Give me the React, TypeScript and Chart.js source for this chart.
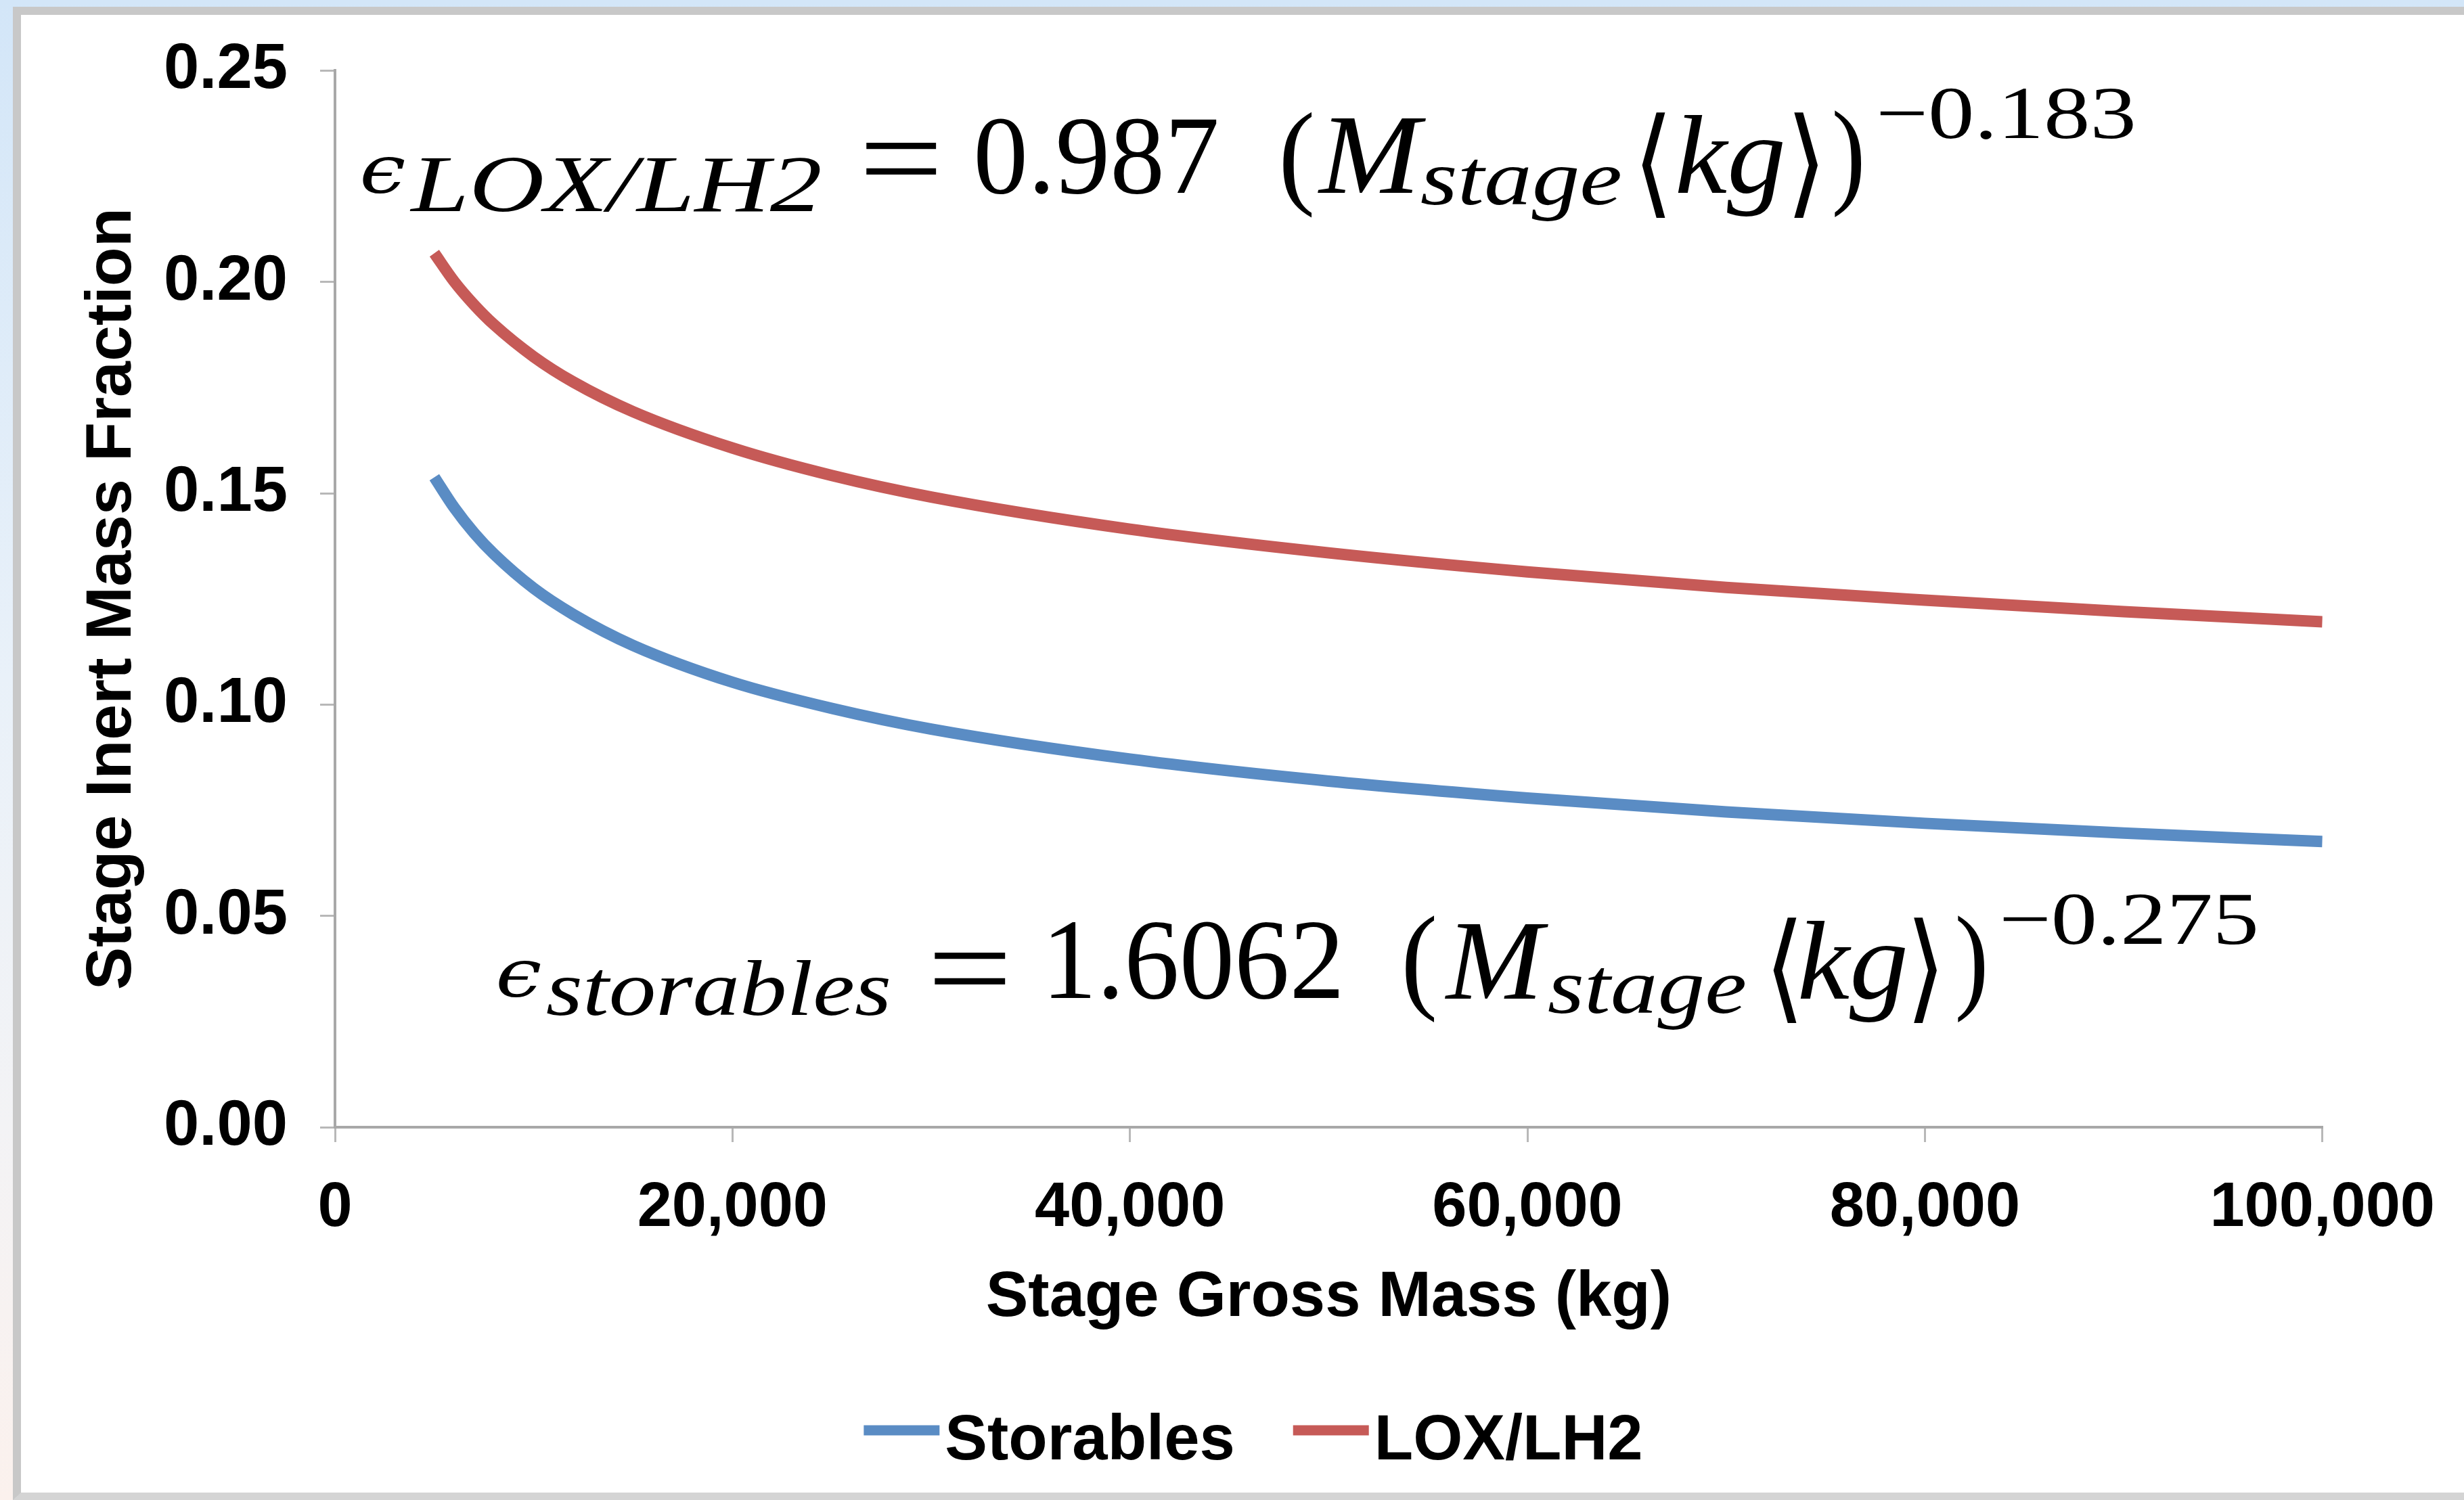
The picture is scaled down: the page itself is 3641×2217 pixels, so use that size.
import React, { useEffect, useRef } from 'react';
import { Chart, registerables } from 'chart.js';

Chart.register(...registerables);

// ---------- data ----------
const massKg = [5000, 6000, 7000, 8000, 10000, 12000, 15000, 20000, 25000, 30000, 40000, 50000, 60000, 70000, 80000, 90000, 100000];
const storablesFraction = [0.1538, 0.1466, 0.1406, 0.1356, 0.1275, 0.1213, 0.1140, 0.1053, 0.0991, 0.0942, 0.0871, 0.0819, 0.0779, 0.0746, 0.0719, 0.0696, 0.0676];
const loxLh2Fraction = [0.2068, 0.2001, 0.1946, 0.1899, 0.1823, 0.1763, 0.1693, 0.1607, 0.1542, 0.1491, 0.1415, 0.1359, 0.1314, 0.1277, 0.1247, 0.1220, 0.1196];
const seriesLabels = ['Storables', 'LOX/LH2'];
const xTickValues = [0, 20000, 40000, 60000, 80000, 100000];
const yTickValues = [0, 0.05, 0.1, 0.15, 0.2, 0.25];
const xAxisTitle = 'Stage Gross Mass (kg)';
const yAxisTitle = 'Stage Inert Mass Fraction';

// ---------- styles ----------
const W = 3641;
const H = 2217;
const BLUE = '#5a8cc4';
const RED = '#c65a57';
const SANS = "'Liberation Sans', Arial, Helvetica, sans-serif";
const SERIF = "'Liberation Serif', 'Times New Roman', serif";
const MATH = "'DejaVu Serif', 'Liberation Serif', serif";

type Piece = { t: string; f: string; x0: number; x1: number; y0?: number; y1?: number; base?: number };

const equationLox: Piece[] = [
  { t: '\u03F5', f: `italic 130px ${MATH}`, x0: 536, x1: 598, y0: 233, y1: 287 },
  { t: 'LOX/LH2', f: `italic 118px ${SERIF}`, x0: 605, x1: 1212, base: 312 },
  { t: '=', f: `160px ${SERIF}`, x0: 1279, x1: 1384, y0: 210, y1: 258 },
  { t: '0.987', f: `166px ${SERIF}`, x0: 1444, x1: 1798, y0: 175, y1: 287 },
  { t: '(', f: `166px ${SERIF}`, x0: 1896, x1: 1938, y0: 165, y1: 322 },
  { t: 'M', f: `italic 166px ${SERIF}`, x0: 1947, x1: 2107, y0: 175, y1: 285 },
  { t: 'stage', f: `italic 116px ${SERIF}`, x0: 2100, x1: 2394, base: 302 },
  { t: '\u27E8', f: `166px ${MATH}`, x0: 2426, x1: 2461, y0: 166, y1: 322 },
  { t: 'kg', f: `italic 166px ${SERIF}`, x0: 2479, x1: 2635, base: 285 },
  { t: '\u27E9', f: `166px ${MATH}`, x0: 2651, x1: 2686, y0: 166, y1: 322 },
  { t: ')', f: `166px ${SERIF}`, x0: 2711, x1: 2750, y0: 163, y1: 322 },
  { t: '\u22120.183', f: `110px ${SERIF}`, x0: 2778, x1: 3152, base: 204 },
];

const equationStorables: Piece[] = [
  { t: '\u03F5', f: `italic 130px ${MATH}`, x0: 737, x1: 799, y0: 1421, y1: 1475 },
  { t: 'storables', f: `italic 117px ${SERIF}`, x0: 808, x1: 1313, base: 1500 },
  { t: '=', f: `160px ${SERIF}`, x0: 1380, x1: 1486, y0: 1407, y1: 1455 },
  { t: '1.6062', f: `166px ${SERIF}`, x0: 1553, x1: 1978, y0: 1362, y1: 1477 },
  { t: '(', f: `166px ${SERIF}`, x0: 2077, x1: 2119, y0: 1353, y1: 1512 },
  { t: 'M', f: `italic 166px ${SERIF}`, x0: 2135, x1: 2288, y0: 1366, y1: 1476 },
  { t: 'stage', f: `italic 116px ${SERIF}`, x0: 2288, x1: 2578, base: 1497 },
  { t: '\u27E8', f: `166px ${MATH}`, x0: 2620, x1: 2655, y0: 1356, y1: 1512 },
  { t: 'kg', f: `italic 166px ${SERIF}`, x0: 2660, x1: 2816, base: 1476 },
  { t: '\u27E9', f: `166px ${MATH}`, x0: 2828, x1: 2862, y0: 1356, y1: 1512 },
  { t: ')', f: `166px ${SERIF}`, x0: 2893, x1: 2932, y0: 1353, y1: 1512 },
  { t: '\u22120.275', f: `110px ${SERIF}`, x0: 2960, x1: 3333, base: 1395 },
];

function drawPiece(ctx: CanvasRenderingContext2D, p: Piece) {
  ctx.save();
  ctx.font = p.f;
  ctx.fillStyle = '#000';
  ctx.textAlign = 'left';
  ctx.textBaseline = 'alphabetic';
  const m = ctx.measureText(p.t);
  const inkL = -m.actualBoundingBoxLeft;
  const inkR = m.actualBoundingBoxRight;
  const sx = (p.x1 - p.x0) / Math.max(1, inkR - inkL);
  if (p.base !== undefined) {
    ctx.translate(p.x0, p.base);
    ctx.scale(sx, 1);
    ctx.fillText(p.t, -inkL, 0);
  } else {
    const inkT = -m.actualBoundingBoxAscent;
    const inkB = m.actualBoundingBoxDescent;
    const sy = ((p.y1 as number) - (p.y0 as number)) / Math.max(1, inkB - inkT);
    ctx.translate(p.x0, p.y0 as number);
    ctx.scale(sx, sy);
    ctx.fillText(p.t, -inkL, -inkT);
  }
  ctx.restore();
}

const equationPlugin = {
  id: 'equations',
  afterDraw(chart: any) {
    const ctx = chart.ctx as CanvasRenderingContext2D;
    equationLox.forEach((p) => drawPiece(ctx, p));
    equationStorables.forEach((p) => drawPiece(ctx, p));
  },
};

const bottomLegendPlugin = {
  id: 'bottomLegend',
  afterDraw(chart: any) {
    const ctx = chart.ctx as CanvasRenderingContext2D;
    const centerX = 1852;
    const textY = 2131;
    const lineY = 2114;
    const segW = 112;
    const segGap = 8;
    const itemGap = 86;
    ctx.save();
    ctx.font = `bold 94px ${SANS}`;
    ctx.textBaseline = 'middle';
    ctx.textAlign = 'left';
    const items = chart.data.datasets.map((ds: any) => ({
      label: ds.label as string,
      color: ds.borderColor as string,
      w: ctx.measureText(ds.label).width,
    }));
    const total = items.reduce((s: number, it: any) => s + segW + segGap + it.w, 0) + itemGap * (items.length - 1);
    let x = centerX - total / 2;
    items.forEach((it: any) => {
      ctx.strokeStyle = it.color;
      ctx.lineWidth = 15;
      ctx.lineCap = 'butt';
      ctx.beginPath();
      ctx.moveTo(x, lineY);
      ctx.lineTo(x + segW, lineY);
      ctx.stroke();
      ctx.fillStyle = '#000';
      ctx.fillText(it.label, x + segW + segGap, textY);
      x += segW + segGap + it.w + itemGap;
    });
    ctx.restore();
  },
};

export default function App() {
  const canvasRef = useRef<HTMLCanvasElement | null>(null);

  useEffect(() => {
    const canvas = canvasRef.current;
    if (!canvas) return;
    const toPoints = (ys: number[]) => massKg.map((x, i) => ({ x, y: ys[i] }));
    const chart = new Chart(canvas, {
      type: 'line',
      data: {
        datasets: [
          {
            label: seriesLabels[0],
            data: toPoints(storablesFraction),
            borderColor: BLUE,
            backgroundColor: BLUE,
            borderWidth: 17,
            pointRadius: 0,
            cubicInterpolationMode: 'monotone',
            borderCapStyle: 'butt',
            fill: false,
          },
          {
            label: seriesLabels[1],
            data: toPoints(loxLh2Fraction),
            borderColor: RED,
            backgroundColor: RED,
            borderWidth: 17,
            pointRadius: 0,
            cubicInterpolationMode: 'monotone',
            borderCapStyle: 'butt',
            fill: false,
          },
        ],
      },
      options: {
        responsive: false,
        animation: false,
        devicePixelRatio: 1,
        layout: { padding: { left: 0, top: 101, right: W - 3437, bottom: 0 } },
        plugins: {
          legend: { display: false },
          tooltip: { enabled: false },
          title: { display: false },
        },
        scales: {
          x: {
            type: 'linear',
            min: 0,
            max: 100000,
            afterBuildTicks: (scale: any) => {
              scale.ticks = xTickValues.map((v) => ({ value: v }));
            },
            afterFit: (scale: any) => {
              scale.height = H - 1666;
            },
            ticks: {
              color: '#000',
              font: { family: SANS, size: 92, weight: 'bold' },
              padding: 43,
              maxRotation: 0,
              autoSkip: false,
              callback: (v: any) => Number(v).toLocaleString('en-US'),
            },
            grid: {
              drawOnChartArea: false,
              drawTicks: true,
              tickLength: 22,
              color: '#b8b8b8',
              lineWidth: 3,
            },
            border: { display: true, color: '#a8a8a8', width: 4 },
            title: {
              display: true,
              text: xAxisTitle,
              color: '#000',
              font: { family: SANS, size: 94, weight: 'bold' },
              padding: { top: 0, bottom: 242 },
            },
          },
          y: {
            type: 'linear',
            min: 0,
            max: 0.25,
            afterBuildTicks: (scale: any) => {
              scale.ticks = yTickValues.map((v) => ({ value: v }));
            },
            afterFit: (scale: any) => {
              scale.width = 495;
            },
            ticks: {
              color: '#000',
              font: { family: SANS, size: 94, weight: 'bold' },
              padding: 48,
              autoSkip: false,
              callback: (v: any) => Number(v).toFixed(2),
            },
            grid: {
              drawOnChartArea: false,
              drawTicks: true,
              tickLength: 22,
              color: '#b8b8b8',
              lineWidth: 3,
            },
            border: { display: true, color: '#a8a8a8', width: 4 },
            title: {
              display: true,
              text: yAxisTitle,
              color: '#000',
              font: { family: SANS, size: 95, weight: 'bold' },
              padding: { top: 110, bottom: 0 },
            },
          },
        },
      },
      plugins: [equationPlugin, bottomLegendPlugin],
    } as any);
    return () => chart.destroy();
  }, []);

  return (
    <div
      style={{
        position: 'fixed',
        left: 0,
        top: 0,
        width: W,
        height: H,
        overflow: 'hidden',
        background: 'linear-gradient(to bottom, #d3e6f8 0%, #e9f1f9 45%, #f3f3f5 75%, #fbf1ed 100%)',
      }}
    >
      <div
        style={{
          position: 'absolute',
          left: 19,
          top: 10,
          width: W - 19,
          height: H - 10,
          boxSizing: 'border-box',
          background: '#ffffff',
          borderLeft: '12px solid #c8c8c8',
          borderTop: '12px solid #c8c8c8',
          borderBottom: '11px solid #d4d4d4',
        }}
      />
      <canvas ref={canvasRef} width={W} height={H} style={{ position: 'absolute', left: 0, top: 0 }} />
    </div>
  );
}
